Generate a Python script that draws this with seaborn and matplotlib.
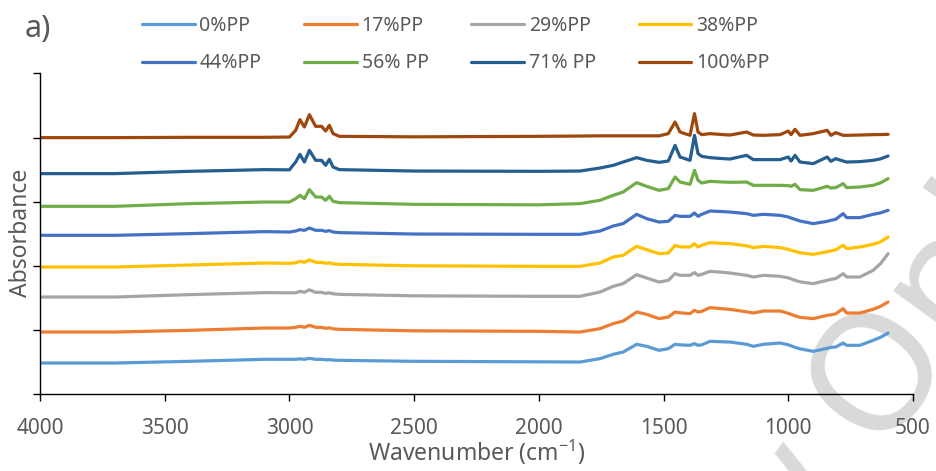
import numpy as np
import pandas as pd
import matplotlib
matplotlib.use("Agg")
import matplotlib.pyplot as plt
import seaborn as sns

# ---------------- data ----------------
wavenumber = [4000, 3700, 3400, 3100, 3000, 2975, 2958, 2940, 2920, 2895,
              2871, 2855, 2840, 2825, 2800, 2500, 2000, 1835, 1755, 1702,
              1662, 1608, 1568, 1518, 1481, 1454, 1434, 1394, 1376, 1362,
              1347, 1314, 1261, 1234, 1167, 1140, 1100, 1033, 1000, 989,
              973, 953, 900, 844, 829, 810, 780, 766, 713, 660, 630, 600]

labels = ["0%PP", "17%PP", "29%PP", "38%PP", "44%PP", "56% PP", "71% PP", "100%PP"]
colors = ["#5B9BD5", "#ED7D31", "#A5A5A5", "#FFC000", "#4472C4", "#70AD47", "#255E91", "#9E480E"]

# stacked (offset) absorbance, arbitrary units
pp0 = [31.3, 31.3, 33, 35, 35, 35, 35.5, 35, 36, 35, 35, 34.5, 34.7, 34.2, 34, 33, 32.5, 32.3, 35.7, 40,
       42.3, 50, 48, 44, 45.7, 50, 49.5, 49, 50.7, 49, 49.5, 53, 52.5, 52.3, 50, 48, 50, 51.3, 49.5, 48.5,
       47, 45.5, 43, 46, 47, 47.3, 51.3, 49, 49, 54, 57, 61.3]
pp17 = [62.3, 62.3, 64, 66.3, 66.3, 67, 68, 67, 69, 67, 67, 66, 66.5, 65.5, 65, 63.5, 63, 62.3, 65.7, 70.7,
        73.3, 82.3, 80, 75.7, 77.3, 82.3, 81.5, 80.7, 84, 82.3, 83, 86.7, 85.5, 85, 82.5, 81.3, 83.3, 83.3, 81, 80,
        78.5, 77, 75.7, 79, 79.5, 80.5, 85.7, 81.3, 81.3, 85, 88, 92.3]
pp29 = [97.3, 97.3, 99.7, 101.7, 101.5, 101.5, 103, 102, 104.5, 102, 102, 101, 101.5, 100.5, 100, 98.5, 98, 98, 102.3, 108,
        110.7, 119.7, 116.3, 112.3, 114, 120.7, 119, 119, 121.7, 119, 120, 123, 122, 121.3, 119, 117.3, 119, 118, 116.5, 115.5,
        114, 112.5, 110.7, 114, 115, 115.7, 120.7, 117.3, 117.3, 124, 130.7, 140.7]
pp38 = [127.3, 127.3, 129.3, 131.3, 131, 131.5, 133, 132, 134.5, 132, 132, 131, 131.5, 130.5, 130, 128.5, 128, 128, 131.3, 137.3,
        139, 148, 144.7, 140.7, 141.3, 149, 147.5, 147.3, 150.7, 147.3, 149, 151.7, 151, 150.7, 148.5, 146.7, 148, 146.7, 145, 144,
        143, 141.5, 140, 142.5, 143.5, 144.5, 149, 145.7, 147.3, 150, 152.5, 157.3]
pp44 = [159, 159, 160.7, 162.7, 162.3, 163.3, 164.7, 164, 166.3, 164, 164, 163, 163.7, 162.3, 161.7, 160.3, 160, 160, 163.3, 168.3,
        170.7, 180, 175.7, 172.3, 173, 179, 178, 178, 181.3, 178, 180, 183.3, 182.7, 182.3, 180.7, 179, 180, 179, 177.3, 176.3,
        175, 173.3, 170.7, 173, 174, 175, 180.7, 176.7, 176.7, 180, 181.5, 184]
pp56 = [188, 188, 190.7, 192.3, 192.3, 195.7, 199, 195.7, 204.7, 197.3, 197.3, 194, 198, 193, 191.7, 190, 189.5, 190.7, 194, 199,
        202.3, 211.7, 208, 204, 205.7, 217.3, 212.3, 210, 224, 214, 211.3, 213, 212.3, 212, 212.3, 209, 209, 209, 208.7, 208,
        210, 204.7, 204, 208, 206.3, 206.7, 210.7, 206.7, 207.3, 209, 211.5, 215.7]
pp71 = [220.7, 220.7, 223, 224.7, 224.5, 232.3, 240, 232.3, 244, 234, 234, 229, 235, 227.3, 224.7, 223.3, 223, 223.3, 226.3, 229,
        232.3, 236.7, 234, 232, 233.3, 249, 237.3, 234, 259, 240.7, 238, 236.7, 235.7, 235.3, 239, 234.7, 234.7, 234.7, 237.3, 233.3,
        239, 232.3, 230.7, 237.3, 233, 235.7, 233.3, 232.3, 232.7, 234, 235.5, 238.3]
pp100 = [256.7, 256.7, 257, 257, 257.3, 264, 274.7, 267.3, 279.7, 268, 268, 263.3, 269, 260.7, 258, 257.5, 258, 258.3, 258.5, 258.5,
         258.5, 258.5, 258.5, 258.5, 260.7, 272.3, 262.3, 259, 280.7, 262.3, 259.7, 260.7, 259.7, 259.3, 262.3, 259.3, 259, 259.7, 263.3, 259.7,
         265, 259, 260.7, 264, 259, 261.7, 259, 259, 259.3, 259.7, 259.8, 260]

series = [pp0, pp17, pp29, pp38, pp44, pp56, pp71, pp100]
xticks = [4000, 3500, 3000, 2500, 2000, 1500, 1000, 500]

# ---------------- styling ----------------
sns.set_theme(style="white")
plt.rcParams["font.family"] = ["Noto Sans", "DejaVu Sans"]
plt.rcParams["mathtext.default"] = "regular"
TXT = "#595959"

df = pd.concat(
    [pd.DataFrame({"Wavenumber": wavenumber, "Absorbance": vals, "Sample": name})
     for name, vals in zip(labels, series)],
    ignore_index=True,
)

fig = plt.figure(figsize=(9.36, 4.71), dpi=100)
fig.patch.set_facecolor("white")
ax = fig.add_axes([0.04274, 0.1628, 0.9327, 0.6815])
ax.set_facecolor("none")

sns.lineplot(data=df, x="Wavenumber", y="Absorbance", hue="Sample", hue_order=labels,
             palette=colors, linewidth=2.3, errorbar=None, legend=False, sort=False, ax=ax)
for ln in ax.get_lines():
    ln.set_solid_capstyle("round")
    ln.set_solid_joinstyle("round")

ax.set_xlim(4000, 500)
ax.set_ylim(0, 321)
ax.set_xticks(xticks)
ax.set_xticklabels([str(t) for t in xticks])
ax.set_yticks(np.linspace(0, 321, 6))
ax.set_yticklabels([])

for s in ["top", "right"]:
    ax.spines[s].set_visible(False)
for s in ["left", "bottom"]:
    ax.spines[s].set_color("black")
    ax.spines[s].set_linewidth(1.0)

ax.tick_params(axis="both", direction="out", length=5, width=1, color="black",
               bottom=True, left=True)
ax.tick_params(axis="x", labelsize=15, labelcolor=TXT, pad=12)

ax.set_xlabel("Wavenumber (cm$^{-1}$)", fontsize=16.5, color=TXT)
ax.xaxis.set_label_coords(0.5, -0.18)
ax.xaxis.label.set_va("center")
ax.set_ylabel("Absorbance", fontsize=16.5, color=TXT)
ax.yaxis.set_label_coords(-0.0218, 0.5025)
ax.yaxis.label.set_va("center")

fig.text(25 / 936, 1 - 29 / 471, "a)", fontsize=22, color=TXT, ha="left", va="center")

h = ax.get_lines()[:8]
order = [0, 4, 1, 5, 2, 6, 3, 7]
fig.legend([h[i] for i in order], [labels[i] for i in order],
           loc="upper left", bbox_to_anchor=(142 / 936, 1 - 16 / 471), ncol=4,
           frameon=False, fontsize=14, labelcolor=TXT, handlelength=2.7,
           handletextpad=0.25, columnspacing=2.2, labelspacing=0.9,
           borderpad=0, borderaxespad=0)

# light watermark in the background (cut by the picture edge, as in the reference)
fig.text(780 / 936, 1 - 525 / 471, "Review Only", rotation=54, rotation_mode="anchor",
         ha="center", va="center", fontsize=118, color="#d9d9d9", zorder=-1)

fig.savefig("out.png", dpi=100)
